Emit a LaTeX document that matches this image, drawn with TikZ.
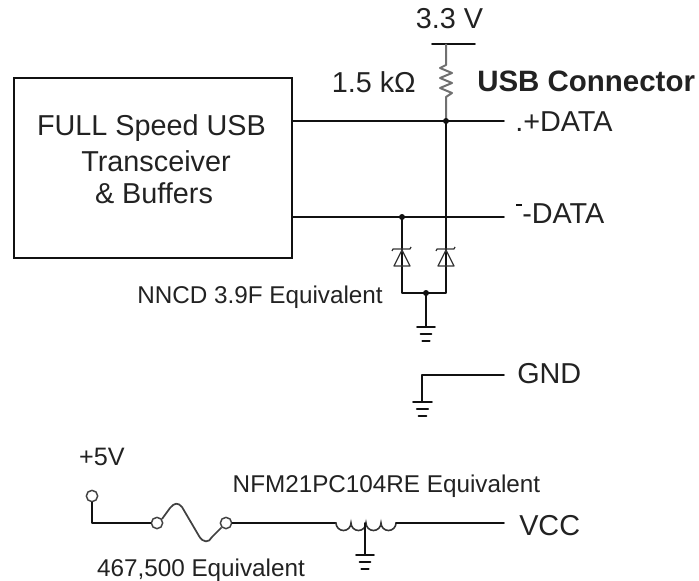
\documentclass[tikz,border=0pt]{standalone}
\usepackage{fontspec}
\setmainfont{Liberation Sans}
\definecolor{ink}{HTML}{111111}
\definecolor{txt}{HTML}{222222}
\tikzset{
  wire/.style={draw=ink,line width=1.3pt,line cap=round,line join=round},
  thin wire/.style={draw=ink!85,line width=0.95pt,line join=round},
  lbl/.style={inner sep=0pt,text=txt,font=\fontsize{#1}{#1}\selectfont,align=center},
  lbl/.default=21.6pt,
  jdot/.style={circle,fill=ink,inner sep=0pt,minimum size=4.5pt},
  term/.style={circle,draw=ink!80,line width=1.1pt,fill=white,inner sep=0pt,minimum size=8.5pt},
}
\newcommand{\gnd}[4]{% x, y, half width, step
  \draw[wire] ({#1-#3},#2) -- ({#1+#3},#2);
  \draw[wire] ({#1-0.6*#3},{#2+#4}) -- ({#1+0.6*#3},{#2+#4});
  \draw[wire] ({#1-0.42*#3},{#2+2*#4}) -- ({#1+0.42*#3},{#2+2*#4});
}
\newcommand{\zener}[1]{% x
  \draw[thin wire] (#1-8,266) -- (#1+8,266) -- (#1,250) -- cycle;
  \draw[thin wire] (#1-10,251) -- (#1-9,249) -- (#1+8,249) -- (#1+9,247);
}
\begin{document}
\begin{tikzpicture}[x=0.75pt,y=-0.75pt]
\useasboundingbox (0,0) rectangle (699,581);
% transceiver: 13..291 x 77..257 px
\node[draw=ink,line width=1.3pt,minimum width=208.5pt,minimum height=135pt,inner sep=0pt,anchor=north west] (box) at (13,77) {};
\node[lbl,anchor=center] (t1) at (151.5,128) {FULL Speed USB};
\node[lbl,anchor=center] (t2) at (156,161) {Transceiver};
\node[lbl,anchor=center] (t3) at (154,193) {\&\ Buffers};
% coordinates
\coordinate (pe) at (504,121);
\coordinate (me) at (504,217);
\coordinate (pb) at (box.east |- pe);
\coordinate (mb) at (box.east |- me);
\coordinate (jp) at (446,121);
\coordinate (jm) at (402,217);
\coordinate (jq) at (446,217);
\coordinate (jb) at (426,293);
% supply
\node[lbl] (v33) at (449.5,19) {3.3 V};
\coordinate (s) at (446,44);
\draw[wire] (432,44) -- (475,44);
\draw[draw=ink!60,line width=1.5pt,line join=round] (s) -- (446,65)
  -- (440,68) -- (452,73) -- (440,78) -- (452,83) -- (440,88) -- (452,93) -- (446,97) -- (jp);
\node[lbl,anchor=east] (r) at (416,82) {1.5 kΩ};
\node[lbl,font=\bfseries\fontsize{22.1pt}{22.1pt}\selectfont,anchor=west] (usb) at (477,81) {USB Connector};
% data lines
\draw[wire] (pb) -- (pe);
\draw[wire] (mb) -- (me);
\draw[wire] (jp) -- (jq);
\node[lbl,anchor=west] (pd) at (515,122) {.+DATA};
\node[lbl,anchor=west] (md) at (522,214) {-DATA};
\draw[draw=ink,line width=0.8pt] (516,205) -- (522,205);
\node[jdot] at (jp) {};
\node[jdot] at (jm) {};
\node[jdot] at (jb) {};
% diodes
\draw[wire] (jm) -- (402,266);
\draw[wire] (jq) -- (446,266);
\draw[wire] (402,266) -- (402,293) -- (446,293) -- (446,266);
\zener{402}
\zener{446}
\draw[wire] (jb) -- (426,327);
\gnd{426}{327}{9}{7}
\node[lbl=18.2pt,anchor=west] (nn) at (137,297) {NNCD 3.9F Equivalent};
% GND
\node[lbl,anchor=west] (g) at (517,373.5) {GND};
\draw[wire] (504,375) -- (422,375) -- (422,402);
\gnd{422.5}{402}{9.5}{7}
% power
\node[lbl=18.9pt,anchor=center] (p5) at (102,457) {+5V};
\node[term] (a) at (92,496) {};
\node[term] (f1) at (157,523) {};
\node[term] (f2) at (226,523) {};
\draw[wire] (a) -- (92,523) -- (f1);
\draw[draw=ink!80,line width=1.3pt,line join=round] (162,519) -- (170,508) .. controls (174,503) and (178,502) .. (182,507)
  -- (199,536) .. controls (203,543) and (209,543) .. (212,537)
  -- (f2);
\draw[wire] (f2) -- (336,523);
\draw[draw=ink!85,line width=1.2pt,line cap=round] (336,523) arc[start angle=180,end angle=0,radius=7.5]
  arc[start angle=180,end angle=0,radius=7.5]
  arc[start angle=180,end angle=0,radius=7.5]
  arc[start angle=180,end angle=0,radius=7.5];
\draw[wire] (396,523) -- (504,523);
\draw[wire] (365,523) -- (365,555);
\gnd{365}{555}{9}{7}
\node[lbl,anchor=west] (vcc) at (519,526) {VCC};
\node[lbl=18.2pt,anchor=center] (nfm) at (386.5,486) {NFM21PC104RE Equivalent};
\node[lbl=18.2pt,anchor=center] (f) at (201,570) {467,500 Equivalent};
\end{tikzpicture}
\end{document}
